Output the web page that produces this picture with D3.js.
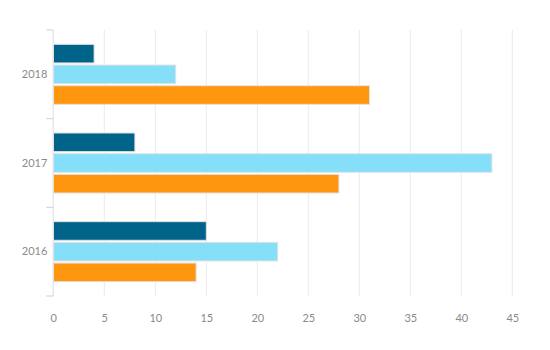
<!DOCTYPE html>
<html>
<head>
<meta charset="utf-8">
<script src="https://cdn.jsdelivr.net/npm/d3@7"></script>
<style>
  html, body { margin: 0; padding: 0; background: #fff; }
  svg { display: block; }
  text { font-family: "Lato", "Open Sans", sans-serif; fill: #8a8a8a; }
</style>
</head>
<body>
<div id="chart"></div>
<script>
// Years, top to bottom
const years = ["2018", "2017", "2016"];
// Three series per year
const seriesNames = ["A", "B", "C"];
const seriesA = [4, 8, 15];
const seriesB = [12, 43, 22];
const seriesC = [31, 28, 14];
const xTicks = [0, 5, 10, 15, 20, 25, 30, 35, 40, 45];
const colors = ["#00638a", "#86dff8", "#ff960f"];

const width = 550, height = 350;
const margin = { top: 30, right: 38, bottom: 54, left: 53.3 };

const svg = d3.select("#chart").append("svg")
  .attr("width", width).attr("height", height);

const x = d3.scaleLinear().domain([0, 45])
  .range([margin.left, margin.left + 10.2 * 45]);

const y = d3.scaleBand().domain(years)
  .range([margin.top, height - margin.bottom])
  .paddingInner(0.323).paddingOuter(0.1615);

const yInner = d3.scaleBand().domain(seriesNames)
  .range([0, y.bandwidth()]).paddingInner(0.1);

const color = d3.scaleOrdinal().domain(seriesNames).range(colors);

const rows = years.map((yr, i) => ({
  year: yr,
  values: [
    { key: "A", value: seriesA[i] },
    { key: "B", value: seriesB[i] },
    { key: "C", value: seriesC[i] }
  ]
}));

// vertical gridlines
svg.append("g")
  .selectAll("line")
  .data(xTicks)
  .join("line")
  .attr("x1", d => x(d)).attr("x2", d => x(d))
  .attr("y1", margin.top).attr("y2", height - margin.bottom)
  .attr("stroke", "#ececec").attr("stroke-width", 1);

// bars
svg.append("g")
  .selectAll("g")
  .data(rows)
  .join("g")
  .attr("transform", d => `translate(0,${y(d.year)})`)
  .selectAll("rect")
  .data(d => d.values)
  .join("rect")
  .attr("x", x(0))
  .attr("y", d => yInner(d.key))
  .attr("width", d => x(d.value) - x(0))
  .attr("height", yInner.bandwidth())
  .attr("fill", d => color(d.key))
  .attr("stroke", "#e2e2e2")
  .attr("stroke-width", 1);

// y axis
const yAxis = svg.append("g")
  .attr("transform", `translate(${x(0)},0)`)
  .call(d3.axisLeft(y).tickSize(0).tickPadding(6));
yAxis.select(".domain").remove();
yAxis.selectAll("text").attr("font-size", 11).style("fill", "#8a8a8a");

// axis line and boundary ticks between years
const bounds = [margin.top, ...years.slice(1).map(yr => y(yr) - y.step() * y.paddingInner() / 2), height - margin.bottom];
svg.append("line")
  .attr("x1", x(0)).attr("x2", x(0))
  .attr("y1", margin.top).attr("y2", height - margin.bottom)
  .attr("stroke", "#e4e4e4");
svg.append("g")
  .selectAll("line")
  .data(bounds)
  .join("line")
  .attr("x1", x(0) - 7).attr("x2", x(0))
  .attr("y1", d => d).attr("y2", d => d)
  .attr("stroke", "#cfcfcf");

// x axis labels
const xAxis = svg.append("g")
  .attr("transform", `translate(0,${height - margin.bottom})`)
  .call(d3.axisBottom(x).tickValues(xTicks).tickSize(0).tickPadding(18));
xAxis.select(".domain").remove();
xAxis.selectAll("text").attr("font-size", 11).style("fill", "#8a8a8a");
</script>
</body>
</html>
